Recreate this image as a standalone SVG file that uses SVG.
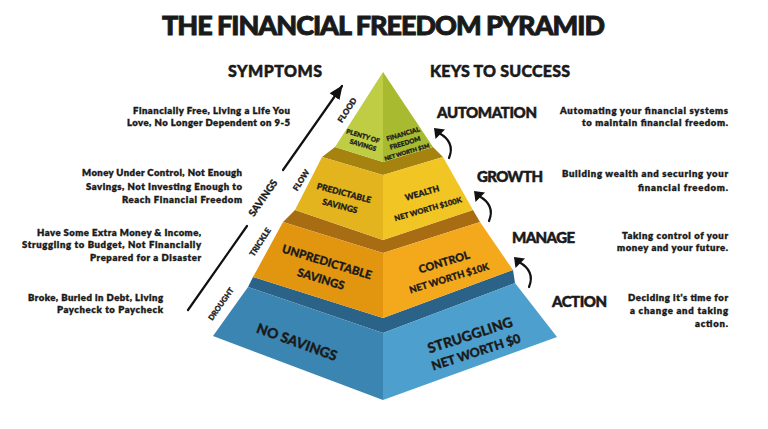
<svg xmlns="http://www.w3.org/2000/svg" xmlns:xlink="http://www.w3.org/1999/xlink" width="768" height="429" viewBox="0 0 768 429">
<defs>
<style>
.t{font-family:Lato,"Liberation Sans","DejaVu Sans",sans-serif;font-weight:900;fill:#1a1a1a;stroke:#1a1a1a;stroke-width:0.3px}
.big{stroke-width:0.9px}
.h{font-size:16px;stroke-width:0.5px}
.k{font-size:15px;stroke-width:0.5px}
.d{font-size:9.5px;font-weight:800;stroke-width:0.35px}
.m{text-anchor:middle}
.e{text-anchor:end}
.ln{stroke:#111;stroke-width:2.2;fill:none;stroke-linecap:round}
.gl{fill:#bfcd45}.gr{fill:#a8ba2f}
.ys{fill:#a6830f}.yl{fill:#e4b41e}.yr{fill:#f1c523}
.os{fill:#a86c12}.ol{fill:#e2950f}.or{fill:#f4a91d}
.bs{fill:#2b6287}.bl{fill:#3a85b1}.br{fill:#4d9fcd}
</style>
<marker id="ah" viewBox="0 0 14 12" markerWidth="14" markerHeight="12" refX="13" refY="6" orient="auto" markerUnits="userSpaceOnUse">
<path d="M0,0 L14,6 L0,12 z" fill="#111"/>
</marker>
<g id="curl">
<path d="M5,5 C14,10 20,18 15,30" class="ln" stroke-width="2.6"/>
<polygon points="0,0 11,1.5 1.5,11" fill="#111"/>
</g>
</defs>
<rect width="768" height="429" fill="#ffffff"/>

<g id="title">
<text class="t m big" x="383.5" y="35" font-size="27" textLength="443">THE FINANCIAL FREEDOM PYRAMID</text>
<text class="t m h" x="275" y="77" textLength="94">SYMPTOMS</text>
<text class="t m h" x="500" y="77" textLength="140">KEYS TO SUCCESS</text>
</g>

<g id="tier-struggling">
<polygon class="bs" points="248,287 383,333 515,283 513,270 383,318 253,277"/>
<polygon class="bl" points="213,336 248,287 383,333 383,400"/>
<polygon class="br" points="383,333 515,283 557,337 383,400"/>
<g transform="translate(297,342) rotate(20)"><text class="t m" y="5" font-size="14">NO SAVINGS</text></g>
<g transform="translate(470,335) rotate(-18)"><text class="t m" y="5" font-size="14">STRUGGLING</text></g>
<g transform="translate(476,352) rotate(-18)"><text class="t m" y="4.5" font-size="12.5">NET WORTH $0</text></g>
</g>

<g id="tier-control">
<polygon class="os" points="283,222 383,253 480,222 473,210 383,240 295,210"/>
<polygon class="ol" points="253,277 283,222 383,253 383,318"/>
<polygon class="or" points="383,253 480,222 513,270 383,318"/>
<g transform="translate(327,262) rotate(17)"><text class="t m" y="4" font-size="11.5">UNPREDICTABLE</text></g>
<g transform="translate(321,279) rotate(17)"><text class="t m" y="4" font-size="11.5">SAVINGS</text></g>
<g transform="translate(444,262) rotate(-17)"><text class="t m" y="4" font-size="11">CONTROL</text></g>
<g transform="translate(449,278) rotate(-17)"><text class="t m" y="3.5" font-size="9.5">NET WORTH $10K</text></g>
</g>

<g id="tier-wealth">
<polygon class="ys" points="322,157 383,175 443,157 433,147 383,162 335,147"/>
<polygon class="yl" points="295,210 322,157 383,175 383,240"/>
<polygon class="yr" points="383,175 443,157 473,210 383,240"/>
<g transform="translate(344,193) rotate(15)"><text class="t m" y="3" font-size="8.5">PREDICTABLE</text></g>
<g transform="translate(340,206) rotate(15)"><text class="t m" y="3" font-size="8.5">SAVINGS</text></g>
<g transform="translate(422,193) rotate(-16)"><text class="t m" y="3" font-size="8.5">WEALTH</text></g>
<g transform="translate(428,209) rotate(-16)"><text class="t m" y="2.7" font-size="7.5">NET WORTH $100K</text></g>
</g>

<g id="tier-freedom">
<polygon class="gl" points="383,72 335,147 383,162"/>
<polygon class="gr" points="383,72 433,147 383,162"/>
<g transform="translate(363,136) rotate(17)"><text class="t m" y="2.3" font-size="6.5">PLENTY OF</text></g>
<g transform="translate(363,145) rotate(17)"><text class="t m" y="2.3" font-size="6.5">SAVINGS</text></g>
<g transform="translate(403,134) rotate(-17)"><text class="t m" y="2.3" font-size="6.5">FINANCIAL</text></g>
<g transform="translate(405,143) rotate(-17)"><text class="t m" y="2.3" font-size="6.5">FREEDOM</text></g>
<g transform="translate(407,152) rotate(-17)"><text class="t m" y="2" font-size="5.6">NET WORTH $1M</text></g>
</g>

<g id="connectors">
<line class="ln" x1="188" y1="310" x2="247" y2="226"/>
<line class="ln" x1="283" y1="170" x2="342" y2="86" marker-end="url(#ah)"/>
<use xlink:href="#curl" href="#curl" x="434" y="128"/>
<use xlink:href="#curl" href="#curl" x="474" y="191"/>
<use xlink:href="#curl" href="#curl" x="514" y="257"/>
</g>

<g id="stage-labels">
<g transform="translate(347,110) rotate(-57)"><text class="t m" y="3" font-size="8">FLOOD</text></g>
<g transform="translate(301,180) rotate(-57)"><text class="t m" y="3" font-size="8">FLOW</text></g>
<g transform="translate(263,198) rotate(-55)"><text class="t m" y="3.5" font-size="10">SAVINGS</text></g>
<g transform="translate(260,242) rotate(-57)"><text class="t m" y="3" font-size="8">TRICKLE</text></g>
<g transform="translate(221,304) rotate(-55)"><text class="t m" y="2.7" font-size="7.5">DROUGHT</text></g>
</g>

<g id="symptoms">
<text class="t d e" x="290" y="114" textLength="157">Financially Free, Living a Life You</text>
<text class="t d e" x="290" y="126" textLength="163">Love, No Longer Dependent on 9-5</text>
<text class="t d e" x="242" y="176" textLength="160">Money Under Control, Not Enough</text>
<text class="t d e" x="242" y="190" textLength="156">Savings, Not Investing Enough to</text>
<text class="t d e" x="242" y="203" textLength="120">Reach Financial Freedom</text>
<text class="t d e" x="201" y="236" textLength="164">Have Some Extra Money &amp; Income,</text>
<text class="t d e" x="201" y="248" textLength="179">Struggling to Budget, Not Financially</text>
<text class="t d e" x="201" y="261" textLength="111">Prepared for a Disaster</text>
<text class="t d e" x="163" y="301" textLength="135">Broke, Buried in Debt, Living</text>
<text class="t d e" x="163" y="313" textLength="106">Paycheck to Paycheck</text>
</g>

<g id="keys">
<text class="t m k" x="487" y="118" textLength="100">AUTOMATION</text>
<text class="t m k" x="510" y="182" textLength="66">GROWTH</text>
<text class="t m k" x="543.5" y="243" textLength="63">MANAGE</text>
<text class="t m k" x="579.5" y="307" textLength="55">ACTION</text>
<text class="t d e" x="728" y="114" textLength="168">Automating your financial systems</text>
<text class="t d e" x="728" y="126" textLength="146">to maintain financial freedom.</text>
<text class="t d e" x="728" y="177" textLength="166">Building wealth and securing your</text>
<text class="t d e" x="728" y="191" textLength="90">financial freedom.</text>
<text class="t d e" x="728" y="239" textLength="106">Taking control of your</text>
<text class="t d e" x="728" y="251" textLength="111">money and your future.</text>
<text class="t d e" x="728" y="301" textLength="100">Deciding it's time for</text>
<text class="t d e" x="728" y="314" textLength="98">a change and taking</text>
<text class="t d e" x="728" y="327" textLength="33">action.</text>
</g>
</svg>
